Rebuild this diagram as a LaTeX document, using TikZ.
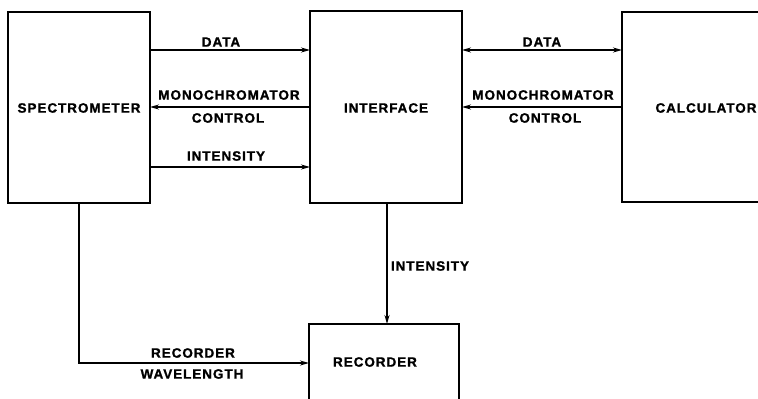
\documentclass[tikz,border=0pt]{standalone}
\usepackage{fontspec}
\setmainfont{Liberation Sans}
\newfontfamily\labfont{Liberation Sans}[LetterSpace=7,BoldFeatures={FakeBold=1.2}]
\usetikzlibrary{arrows.meta}
\begin{document}
\begin{tikzpicture}[x=1pt,y=-1pt,
  lab/.style={font=\labfont\bfseries\fontsize{13.5}{16}\selectfont,inner sep=0pt},
  conn/.style={line width=1.3pt,-{Stealth[length=9pt,width=5pt]}},
  conn2/.style={line width=1.3pt,{Stealth[length=9pt,width=5pt]}-{Stealth[length=9pt,width=5pt]}}]
\useasboundingbox (0,0) rectangle (758,399);
\begin{scope}
\clip (0,0) rectangle (758,399);
\draw[line width=1.6pt] (8,12) rectangle (150,203);
\draw[line width=1.6pt] (310,11) rectangle (462,203);
\draw[line width=1.6pt] (622,12) rectangle (770,202);
\draw[line width=1.6pt] (309,324) rectangle (459,410);
\end{scope}
\coordinate (spR1) at (150,50);
\coordinate (inL1) at (310,50);
\coordinate (spR2) at (150,107);
\coordinate (inL2) at (310,107);
\coordinate (spR3) at (150,167);
\coordinate (inL3) at (310,167);
\coordinate (inR1) at (462,50);
\coordinate (caL1) at (622,50);
\coordinate (inR2) at (462,107);
\coordinate (caL2) at (622,107);
\coordinate (inB) at (387,203);
\coordinate (reT) at (387,324);
\coordinate (spB) at (79,203);
\coordinate (corner) at (79,363);
\coordinate (reL) at (309,363);
\node[lab] (sp) at (79,108) {SPECTROMETER};
\node[lab] (in) at (386,108) {INTERFACE};
\node[lab] (ca) at (706,108) {CALCULATOR};
\node[lab] (re) at (375,362) {RECORDER};
\draw[conn] (spR1) -- (inL1);
\draw[conn] (inL2) -- (spR2);
\draw[conn] (spR3) -- (inL3);
\draw[conn2] (inR1) -- (caL1);
\draw[conn] (caL2) -- (inR2);
\draw[conn] (inB) -- (reT);
\draw[conn] (spB) -- (corner) -- (reL);
\node[lab] (l1) at (221,42) {DATA};
\node[lab] (l2) at (229,95) {MONOCHROMATOR};
\node[lab] (l3) at (228,118) {CONTROL};
\node[lab] (l4) at (226,156) {INTENSITY};
\node[lab] (l5) at (542,42) {DATA};
\node[lab] (l6) at (543,95) {MONOCHROMATOR};
\node[lab] (l7) at (545,118) {CONTROL};
\node[lab] (l8) at (430,266) {INTENSITY};
\node[lab] (l9) at (193,353) {RECORDER};
\node[lab] (l10) at (192,374) {WAVELENGTH};
\end{tikzpicture}
\end{document}
